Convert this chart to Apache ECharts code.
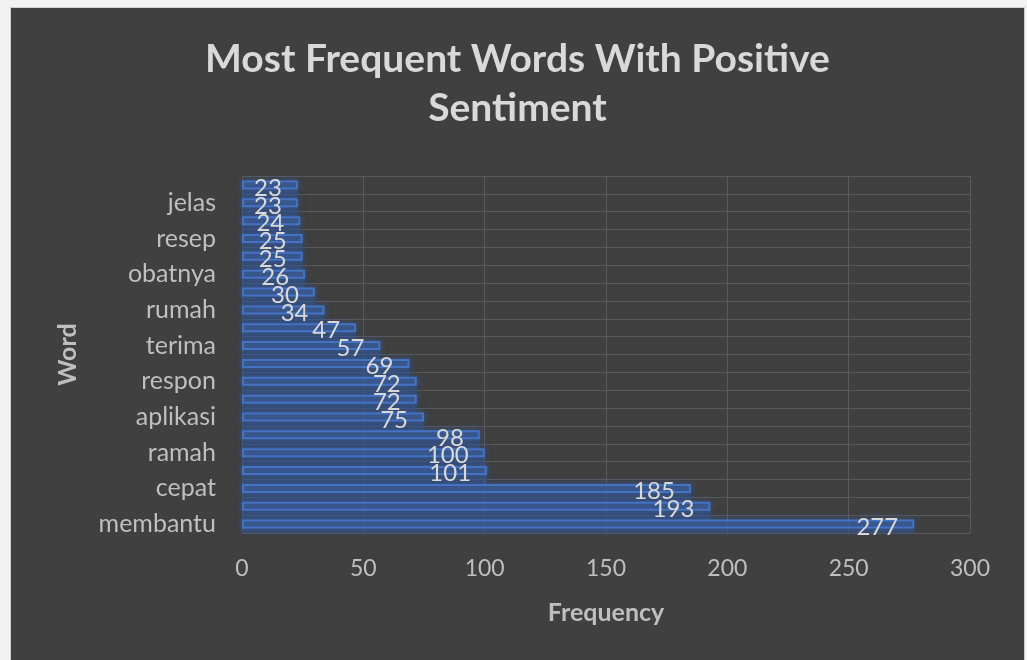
<!DOCTYPE html>
<html>
<head>
<meta charset="utf-8">
<script src="https://cdn.jsdelivr.net/npm/echarts@6/dist/echarts.min.js"></script>
<style>
html,body{margin:0;padding:0;background:#f2f2f2;width:1027px;height:660px;overflow:hidden;}
#frame{position:absolute;left:10px;top:7px;width:1015px;height:653px;background:#d0d0d0;}
#chart{position:absolute;left:11px;top:8px;width:1013px;height:652px;background:#404040;}
</style>
</head>
<body>
<div id="frame"></div>
<div id="chart"></div>
<script>
const categories = ["membantu","sangat","cepat","mudah","ramah","bagus","aplikasi","dokter","respon","baik","terima","kasih","rumah","puas","obatnya","layanan","resep","mantap","jelas","sesuai"];
const frequency = [277,193,185,101,100,98,75,72,72,69,57,47,34,30,26,25,25,24,23,23];
const valueTicks = [0,50,100,150,200,250,300];

const FONT = 'Lato, "Open Sans", sans-serif';
const chart = echarts.init(document.getElementById('chart'), null, {renderer:'canvas'});
chart.setOption({
  backgroundColor: '#404040',
  animation: false,
  title: {
    text: 'Most Frequent Words With Positive\nSentiment',
    left: 'center',
    top: 22,
    textStyle: {color:'#D9D9D9', fontFamily: FONT, fontWeight:'bold', fontSize:39, lineHeight:49}
  },
  grid: {left:231, right:54, top:168, bottom:127, containLabel:false},
  xAxis: {
    type:'value', min:valueTicks[0], max:valueTicks[valueTicks.length-1], interval:50,
    name:'Frequency', nameLocation:'middle', nameGap:67,
    nameTextStyle:{color:'#BFBFBF', fontFamily:FONT, fontWeight:'bold', fontSize:25},
    axisLine:{show:false}, axisTick:{show:false},
    axisLabel:{color:'#BFBFBF', fontFamily:FONT, fontSize:23, margin:24},
    splitLine:{show:true, lineStyle:{color:'#5A5A5A', width:1}}
  },
  yAxis: {
    type:'category', data:categories,
    name:'Word', nameLocation:'middle', nameGap:162, nameRotate:90,
    nameTextStyle:{color:'#BFBFBF', fontFamily:FONT, fontWeight:'bold', fontSize:25},
    axisLine:{show:true, lineStyle:{color:'#5A5A5A'}}, axisTick:{show:false},
    axisLabel:{color:'#BFBFBF', fontFamily:FONT, fontSize:25, interval:1, margin:26},
    splitLine:{show:true, interval:0, lineStyle:{color:'#5A5A5A', width:1}}
  },
  series: [{
    type:'bar', data:frequency, barWidth:18, silent:true,
    itemStyle:{color:'rgba(47,85,151,0.42)', borderWidth:0,
      shadowBlur:10, shadowColor:'rgba(47,85,151,0.6)'},
    label:{show:false}, z:1
  },{
    type:'bar', data:frequency, barWidth:9, barGap:'-100%',
    itemStyle:{color:'rgba(68,114,196,0.12)', borderColor:'#4472C4', borderWidth:2,
      shadowBlur:6, shadowColor:'rgba(68,114,196,0.7)'},
    label:{show:true, position:'insideRight', distance:16, offset:[0,3],
      color:'#D9D9D9', fontFamily:FONT, fontSize:24}, z:2
  }]
});
</script>
</body>
</html>
